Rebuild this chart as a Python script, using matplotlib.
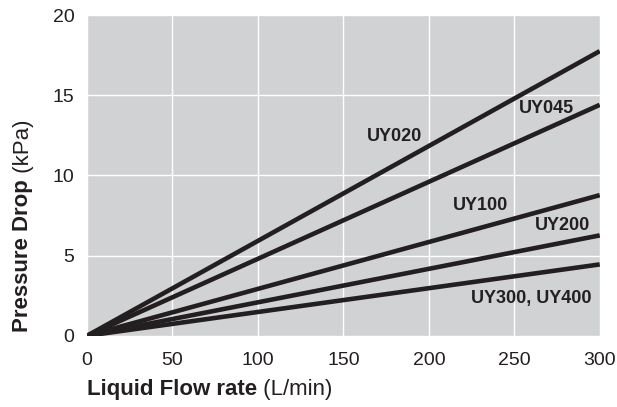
import matplotlib
matplotlib.use("Agg")
from matplotlib import pyplot as plt
from matplotlib.transforms import offset_copy

flow = [0, 300]
uy020 = [0, 17.75]
uy045 = [0, 14.4]
uy100 = [0, 8.77]
uy200 = [0, 6.26]
uy300 = [0, 4.45]

names = ["UY020", "UY045", "UY100", "UY200", "UY300, UY400"]
label_x = [180, 269, 230, 278, 260]
label_y = [12.4, 14.2, 8.1, 6.9, 2.3]

plt.rcParams['font.family'] = ['Liberation Sans Narrow', 'Liberation Sans', 'DejaVu Sans']

fig = plt.figure(figsize=(6.17, 4.07), dpi=100)
ax = fig.add_axes([0.141, 0.175, 0.831, 0.788])
ax.set_facecolor('#d1d2d4')
for s in ax.spines.values():
	s.set_visible(False)

for ys in [uy020, uy045, uy100, uy200, uy300]:
	ax.plot(flow, ys, color='#231f20', lw=3.3, solid_capstyle='butt', zorder=3)

for n, x, y in zip(names, label_x, label_y):
	ax.text(x, y, n, ha='center', va='center', fontsize=13, fontweight='bold', color='#231f20')

ax.set_xlim(0, 300)
ax.set_ylim(0, 20)
ax.set_xticks(range(0, 301, 50))
ax.set_yticks(range(0, 21, 5))
ax.grid(True, color='white', lw=1)
ax.set_axisbelow(True)
ax.tick_params(length=0, labelsize=14, colors='#231f20')
ax.tick_params(axis='x', pad=12)
ax.tick_params(axis='y', pad=9)
for t in ax.get_xticklabels() + ax.get_yticklabels():
	t.set_fontweight('light')

# axis titles: bold part + normal part
fig.canvas.draw()
r = fig.canvas.get_renderer()
t1 = fig.text(87 / 617, 1 - 390 / 407, "Liquid Flow rate", fontsize=16, fontweight='bold',
	ha='left', va='center', color='#231f20')
w = t1.get_window_extent(r).width
fig.text(87 / 617, 1 - 390 / 407, " (L/min)", fontsize=16, ha='left', va='center', color='#231f20',
	transform=offset_copy(fig.transFigure, fig=fig, x=w, y=0, units='dots'))

t2 = fig.text(23 / 617, 1 - 332 / 407, "Pressure Drop", fontsize=16, fontweight='bold',
	rotation=90, ha='center', va='bottom', color='#231f20')
h = t2.get_window_extent(r).height
fig.text(23 / 617, 1 - 332 / 407, " (kPa)", fontsize=16, rotation=90, ha='center', va='bottom',
	color='#231f20', transform=offset_copy(fig.transFigure, fig=fig, x=0, y=h, units='dots'))

fig.savefig("out.png", dpi=100)
